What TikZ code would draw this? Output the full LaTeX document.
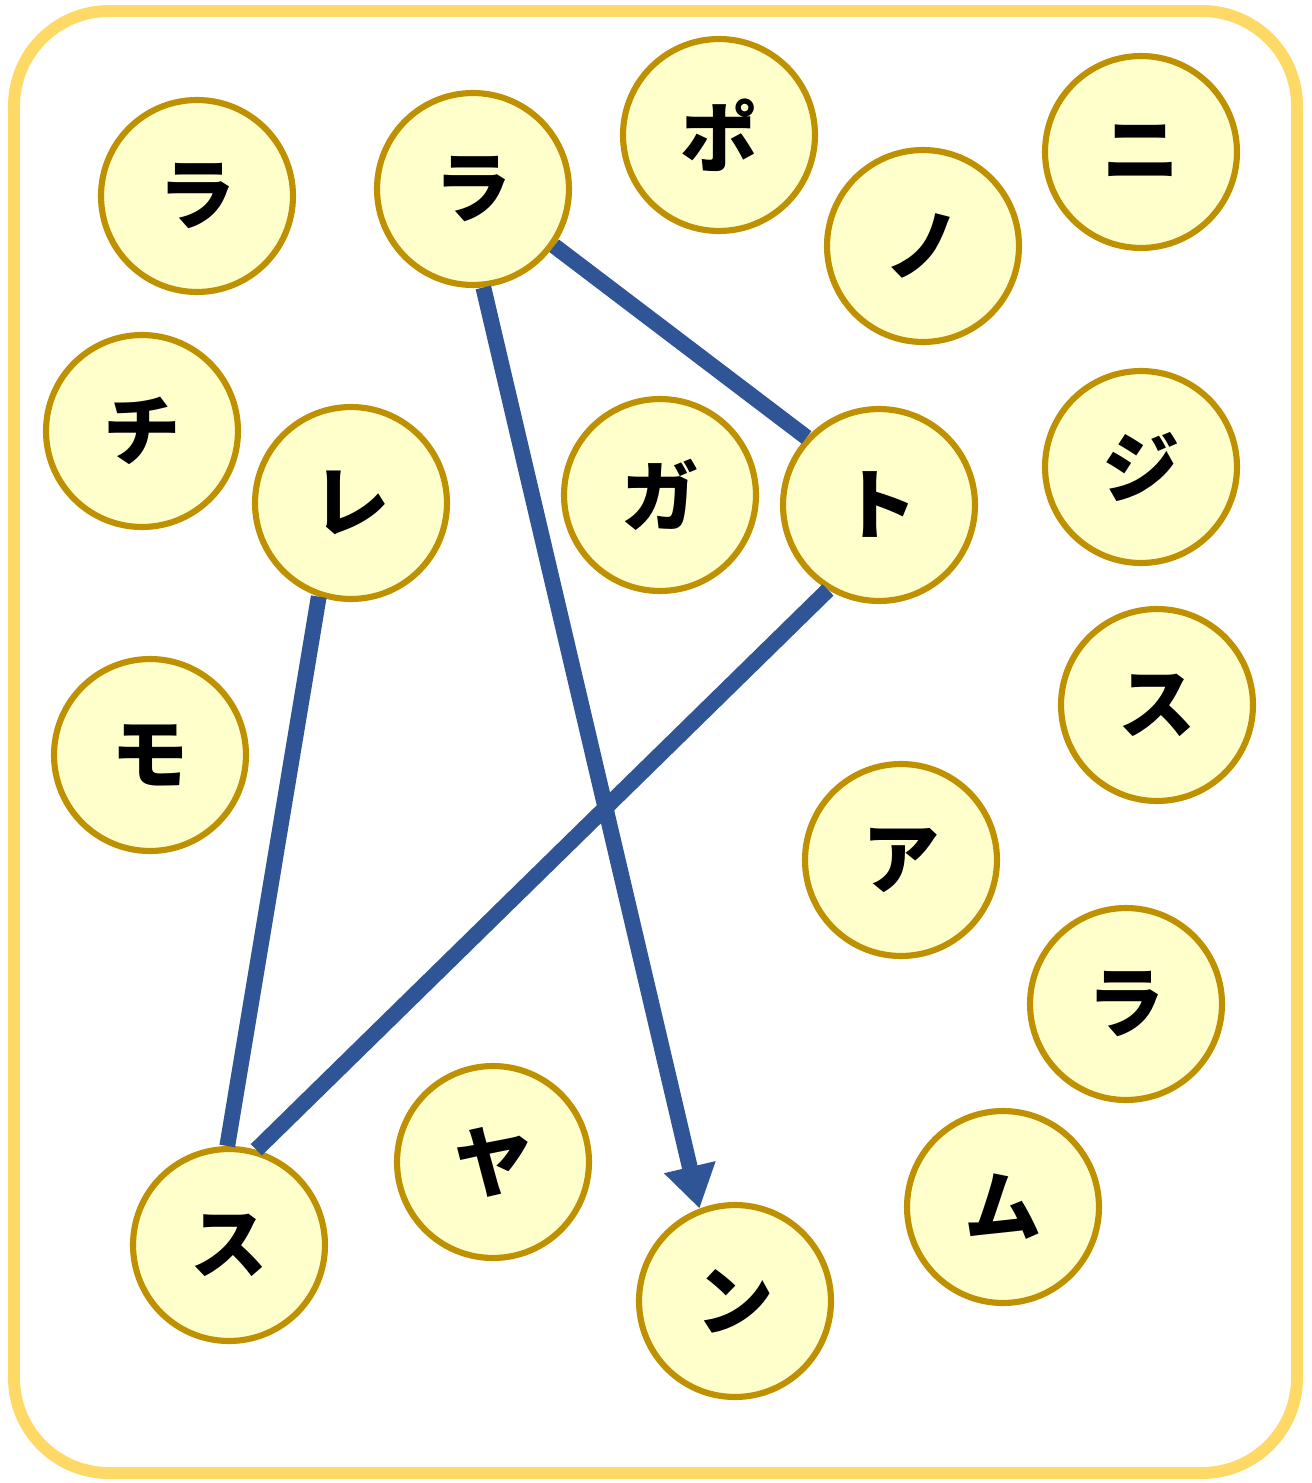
\documentclass[tikz,border=0pt]{standalone}
\usepackage{fontspec}
\newfontfamily\jpfont{Noto Sans CJK JP}
\usetikzlibrary{arrows.meta}

\definecolor{frameyellow}{HTML}{FFD966}
\definecolor{ballfill}{HTML}{FFFFCC}
\definecolor{balldraw}{HTML}{BF9000}
\definecolor{linkblue}{HTML}{2F5597}

\begin{document}
\begin{tikzpicture}[x=0.02cm, y=-0.02cm,
    ball/.style={circle, draw=balldraw, fill=ballfill, line width=3.5pt,
      minimum size=3.84cm, inner sep=0pt, font=\jpfont\bfseries\fontsize{44}{44}\selectfont},
    link/.style={draw=linkblue, line width=9pt}]
  \useasboundingbox (0,0) rectangle (1311,1483);

  % ----- frame -----
  \draw[frameyellow, line width=6.8pt, rounded corners=1.9cm]
    (14,11) rectangle (1297,1473);

  % ----- balls -----
  \node[ball] (ra1) at (197,196)  {ラ};
  \node[ball] (ra2) at (473,189)  {ラ};
  \node[ball] (po)  at (719,135)  {ポ};
  \node[ball] (no)  at (923,246)  {ノ};
  \node[ball] (ni)  at (1141,152) {ニ};
  \node[ball] (chi) at (142,431)  {チ};
  \node[ball] (re)  at (351,503)  {レ};
  \node[ball] (ga)  at (660,495)  {ガ};
  \node[ball] (to)  at (879,505)  {ト};
  \node[ball] (ji)  at (1141,467) {ジ};
  \node[ball] (su1) at (1157,705) {ス};
  \node[ball] (mo)  at (150,755)  {モ};
  \node[ball] (a)   at (901,860)  {ア};
  \node[ball] (ra3) at (1126,1004) {ラ};
  \node[ball] (mu)  at (1003,1207) {ム};
  \node[ball] (ya)  at (493,1162) {ヤ};
  \node[ball] (su2) at (229,1245) {ス};
  \node[ball] (n)   at (735,1301) {ン};

  % ----- links -----
  \draw[link] (ra2.-35) -- (to.137);
  \draw[link] (re.-109) -- (su2.91);
  \draw[link] (to.-121) -- (su2.74);
  \draw[link, -{Triangle[width=1cm, length=0.85cm]}] (ra2.-84) -- (n.111);
\end{tikzpicture}
\end{document}
